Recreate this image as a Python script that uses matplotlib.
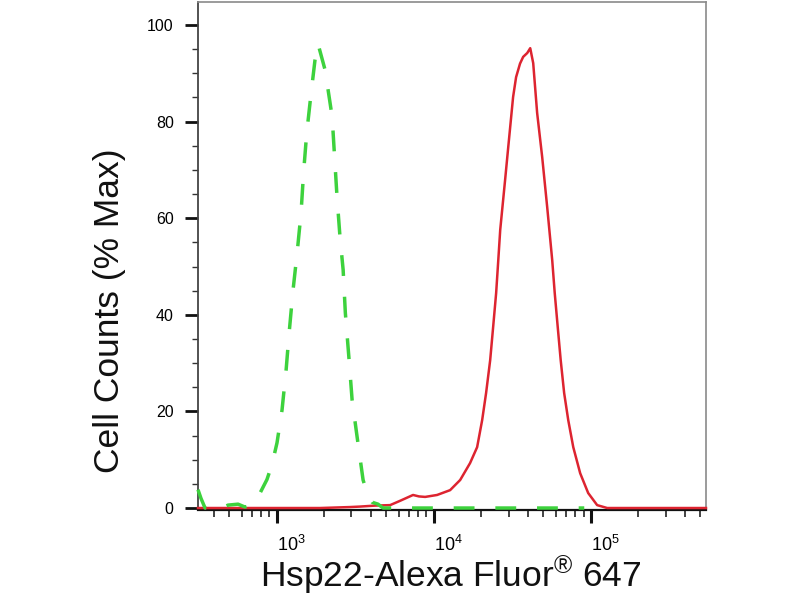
import numpy as np
import matplotlib
matplotlib.use("Agg")
import matplotlib.pyplot as plt
from matplotlib.ticker import FixedLocator, NullFormatter
import matplotlib.transforms as mtransforms

plt.rcParams['font.family'] = ['Liberation Sans', 'DejaVu Sans']

# ---- data (log10 of fluorescence, % of max) ----
green_log = [2.500, 2.519, 2.545, 2.653, 2.691, 2.755, 2.799, 2.831, 2.863, 2.895,
             2.939, 2.971, 3.003, 3.035, 3.061, 3.080, 3.105, 3.131, 3.156, 3.172,
             3.192, 3.220, 3.245, 3.264, 3.309, 3.354, 3.368, 3.385, 3.404, 3.424,
             3.438, 3.462, 3.481, 3.513, 3.551, 3.583, 3.608, 3.646, 3.678, 4.959]
green_pct = [3.8, 2.0, 0.0, 0.0, 0.6, 0.8, 0.2, 0.5, 1.5, 3.1,
             5.9, 9.0, 13.5, 20.3, 28.6, 36.2, 45.1, 52.8, 61.1, 69.4,
             77.6, 85.9, 92.8, 96.1, 90.7, 81.0, 73.5, 64.4, 56.1, 49.3,
             40.4, 30.6, 22.4, 14.7, 5.8, 2.5, 1.2, 0.8, 0.0, 0.0]

red_log = [2.500, 3.277, 3.468, 3.532, 3.627, 3.723, 3.787, 3.869, 3.907, 3.946,
           4.022, 4.105, 4.169, 4.232, 4.277, 4.309, 4.334, 4.360, 4.379, 4.398,
           4.411, 4.424, 4.455, 4.475, 4.506, 4.525, 4.550, 4.570, 4.596, 4.615,
           4.634, 4.659, 4.691, 4.723, 4.755, 4.771, 4.790, 4.809, 4.831, 4.857,
           4.889, 4.933, 4.984, 5.041, 5.105, 5.734]
red_pct = [0.0, 0.0, 0.2, 0.3, 0.5, 0.6, 1.5, 2.7, 2.4, 2.3,
           2.7, 3.7, 5.8, 9.3, 12.6, 18.2, 23.8, 30.6, 37.5, 44.5,
           51.0, 57.6, 67.9, 74.7, 85.1, 89.2, 92.0, 93.4, 94.2, 95.2,
           92.1, 81.8, 72.7, 62.3, 51.3, 44.5, 37.5, 30.6, 23.8, 18.2,
           12.6, 7.2, 3.1, 0.6, 0.0, 0.0]

major_exps = [3, 4, 5]
y_major = [0, 20, 40, 60, 80, 100]
y_minor = [5, 10, 15, 25, 30, 35, 45, 50, 55, 65, 70, 75, 85, 90, 95]
x_label = r'Hsp22-Alexa Fluor$\mathregular{^{®}}$ 647'
y_label = 'Cell Counts (% Max)'

fig = plt.figure(figsize=(8, 6), dpi=100)
ax = fig.add_axes([198/800, 1 - 510/600, (706-198)/800, (510-2)/600])

gx = 10 ** np.array(green_log)
rx = 10 ** np.array(red_log)
ax.plot(rx, red_pct, color='#dd2430', lw=1.8, clip_on=False, zorder=3)
ax.plot(gx, green_pct, color='#3dd23d', lw=2.5, dashes=(6, 6),
        dash_capstyle='butt', clip_on=False, zorder=4)

ax.set_xscale('log')
ax.set_xlim(10 ** 2.5, 10 ** 5.734)
ax.set_ylim(-0.41, 104.76)

# x ticks
ax.xaxis.set_major_locator(FixedLocator([10.0 ** e for e in major_exps]))
ax.set_xticklabels([r'$\mathregular{10^{%d}}$' % e for e in major_exps])
minor = [m * 10.0 ** d for d in range(2, 6) for m in range(2, 10)]
minor = [v for v in minor if 10 ** 2.5 <= v <= 10 ** 5.734]
ax.xaxis.set_minor_locator(FixedLocator(minor))
ax.xaxis.set_minor_formatter(NullFormatter())
for lbl in ax.get_xticklabels():
    lbl.set_horizontalalignment('left')
    lbl.set_transform(lbl.get_transform() +
                      mtransforms.ScaledTranslation(1/100, 0, fig.dpi_scale_trans))

# y ticks
ax.set_yticks(y_major)
ax.set_yticklabels([str(v) for v in y_major])
ax.yaxis.set_minor_locator(FixedLocator(y_minor))

ax.tick_params(axis='x', which='major', direction='out', length=9.4, width=2.2,
               color='#111111', pad=8.5, labelsize=13)
ax.tick_params(axis='x', which='minor', direction='out', length=5, width=1.1,
               color='#111111')
ax.tick_params(axis='y', which='major', direction='out', length=9.5, width=2.0,
               color='#111111', pad=8, labelsize=11.5)
ax.tick_params(axis='y', which='minor', direction='out', length=4.5, width=1.0,
               color='#333333')

ax.spines['left'].set_color('#444444')
ax.spines['left'].set_linewidth(1.3)
ax.spines['bottom'].set_color('#111111')
ax.spines['bottom'].set_linewidth(1.6)
for s in ['top', 'right']:
    ax.spines[s].set_color('#8a8a8a')
    ax.spines[s].set_linewidth(1.2)

fig.text(110/800, 1 - 311/600, y_label, rotation=90, ha='center', va='center',
         fontsize=25.5, color='#111111')
fig.text(451/800, 1 - 587/600, x_label, ha='center', va='baseline',
         fontsize=25.5, color='#111111')

fig.savefig('out.png', dpi=100)
